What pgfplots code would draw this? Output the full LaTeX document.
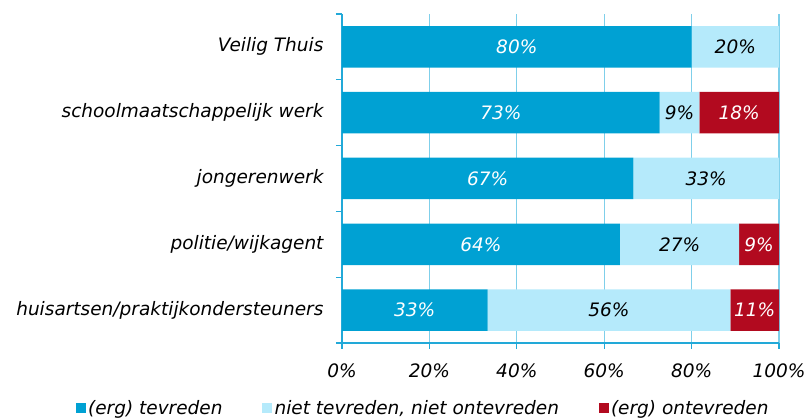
\documentclass[border=0pt]{standalone}
\usepackage{pgfplots}
\pgfplotsset{compat=1.18}
\usepackage{fontspec}
\setmainfont{DejaVu Sans}
\definecolor{cdark}{HTML}{00A1D3}
\definecolor{clight}{HTML}{B5EAFB}
\definecolor{cred}{HTML}{B20A1F}
\definecolor{cgrid}{HTML}{7FCFEA}
\definecolor{caxis}{HTML}{22A9D8}
\begin{document}
\begin{tikzpicture}[font=\fontsize{18.5}{22}\selectfont\itshape]
\useasboundingbox (0,0) rectangle (808pt,419pt);
\begin{axis}[
  at={(342pt,76pt)}, anchor=south west,
  scale only axis, width=437pt, height=329pt,
  xbar stacked, bar width=41.5pt,
  xmin=0, xmax=100, ymin=-0.5, ymax=4.5,
  axis x line*=bottom, axis y line*=left,
  axis line style={draw=caxis, line width=1.4pt},
  xtick={0,20,40,60,80,100},
  xticklabels={0\%,20\%,40\%,60\%,80\%,100\%},
  xticklabel style={yshift=-11pt},
  ytick={-0.5,0.5,1.5,2.5,3.5,4.5},
  y tick label as interval,
  yticklabels={huisartsen/praktijkondersteuners,politie/wijkagent,jongerenwerk,schoolmaatschappelijk werk,Veilig Thuis},
  yticklabel style={xshift=-9pt},
  tick align=outside, major tick length=6pt,
  tick style={draw=caxis, line width=1.2pt},
  xmajorgrids, grid style={draw=cgrid, line width=1.3pt},
  nodes near coords, point meta=explicit symbolic,
  every node near coord/.append style={anchor=center},
  legend columns=3,
  legend style={at={(axis description cs:-0.61,-0.197)}, anchor=west,
    draw=none, fill=none, inner sep=0pt,
    nodes={inner xsep=2.5pt, inner ysep=0pt},
    /tikz/every even column/.append style={column sep=37pt}},
  legend image code/.code={\fill[#1] (0pt,-5pt) rectangle (10pt,5pt);},
]
\addplot[fill=cdark, draw=none, every node near coord/.append style={text=white}]
  coordinates {(33.3,0) [33\%] (63.6,1) [64\%] (66.7,2) [67\%] (72.7,3) [73\%] (80,4) [80\%]};
\addplot[fill=clight, draw=none, every node near coord/.append style={text=black}]
  coordinates {(55.6,0) [56\%] (27.3,1) [27\%] (33.3,2) [33\%] (9.1,3) [9\%] (20,4) [20\%]};
\addplot[fill=cred, draw=none, every node near coord/.append style={text=white}]
  coordinates {(11.1,0) [11\%] (9.1,1) [9\%] (0,2) [] (18.2,3) [18\%] (0,4) []};
\legend{(erg) tevreden,{niet tevreden, niet ontevreden},(erg) ontevreden}
\end{axis}
\end{tikzpicture}
\end{document}
